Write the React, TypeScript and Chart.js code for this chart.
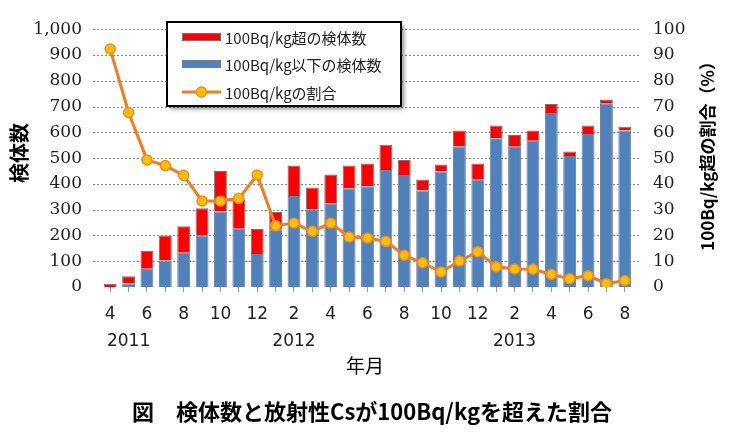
import { useEffect, useRef } from "react";
import { Chart, registerables } from "chart.js";

Chart.register(...registerables);

const categories = [
  "2011/4", "2011/5", "2011/6", "2011/7", "2011/8", "2011/9", "2011/10", "2011/11", "2011/12",
  "2012/1", "2012/2", "2012/3", "2012/4", "2012/5", "2012/6", "2012/7", "2012/8", "2012/9",
  "2012/10", "2012/11", "2012/12", "2013/1", "2013/2", "2013/3", "2013/4", "2013/5", "2013/6",
  "2013/7", "2013/8",
];
const monthTicks = [
  "4", "", "6", "", "8", "", "10", "", "12", "", "2", "", "4", "", "6", "", "8", "", "10", "",
  "12", "", "2", "", "4", "", "6", "", "8",
];
const yearTicks = [
  "", "2011", "", "", "", "", "", "", "", "", "2012", "", "", "", "", "", "", "", "", "", "", "",
  "2013", "", "", "", "", "", "",
];
const belowCounts = [
  0, 14, 71, 103, 133, 200, 293, 226, 128, 222, 353, 302, 325, 383, 391, 454, 434, 374, 448, 545,
  416, 577, 544, 567, 675, 508, 593, 713, 607,
];
const overCounts = [
  13, 28, 70, 97, 103, 105, 157, 114, 97, 69, 118, 84, 111, 88, 88, 98, 59, 43, 27, 62, 63, 49, 46,
  40, 35, 18, 33, 14, 15,
];
const overRatio = [
  92.3, 67.7, 49.3, 47.1, 43.3, 33.4, 33.4, 34.4, 43.4, 23.8, 24.8, 21.6, 24.8, 19.4, 19.0, 17.7,
  12.3, 9.4, 5.8, 10.1, 13.7, 7.9, 7.0, 6.9, 4.9, 3.2, 4.4, 1.3, 2.5,
];
const countTicks = [100, 200, 300, 400, 500, 600, 700, 800, 900, 1000];

const labelOver = "100Bq/kg超の検体数";
const labelBelow = "100Bq/kg以下の検体数";
const labelRatio = "100Bq/kgの割合";
const titleLeft = "検体数";
const titleRight = "100Bq/kg超の割合（%）";
const titleX = "年月";
const caption = "図　検体数と放射性Csが100Bq/kgを超えた割合";

const CJK = '"Noto Sans CJK JP", "Noto Sans", sans-serif';

const gridPlugin = {
  id: "extGrid",
  beforeDatasetsDraw(chart: any) {
    const { ctx, chartArea, scales } = chart;
    ctx.save();
    ctx.strokeStyle = "#8a8a8a";
    ctx.lineWidth = 1;
    ctx.setLineDash([2, 2]);
    for (const v of countTicks) {
      const y = Math.round(scales.y.getPixelForValue(v)) + 0.5;
      ctx.beginPath();
      ctx.moveTo(chartArea.left - 8, y);
      ctx.lineTo(chartArea.right + 6, y);
      ctx.stroke();
    }
    ctx.restore();
  },
};

const decorPlugin = {
  id: "decor",
  afterDraw(chart: any) {
    const { ctx } = chart;
    const ds = chart.data.datasets;
    ctx.save();
    // legend box
    const bx = 167, by = 22, bw = 234, bh = 84;
    ctx.save();
    ctx.shadowColor = "rgba(0,0,0,0.45)";
    ctx.shadowBlur = 4;
    ctx.shadowOffsetX = 3;
    ctx.shadowOffsetY = 3;
    ctx.fillStyle = "#ffffff";
    ctx.fillRect(bx, by, bw, bh);
    ctx.restore();
    ctx.lineWidth = 2;
    ctx.strokeStyle = "#000000";
    ctx.strokeRect(bx, by, bw, bh);

    const rows = [37, 64, 92];
    const items = [ds[1], ds[0], ds[2]];
    ctx.font = `15px ${CJK}`;
    ctx.textBaseline = "middle";
    ctx.textAlign = "left";
    items.forEach((d: any, i: number) => {
      const y = rows[i];
      if (d.type === "line") {
        ctx.strokeStyle = d.borderColor;
        ctx.lineWidth = 3;
        ctx.beginPath();
        ctx.moveTo(182, y);
        ctx.lineTo(221, y);
        ctx.stroke();
        ctx.beginPath();
        ctx.arc(201.5, y, 5, 0, Math.PI * 2);
        ctx.fillStyle = d.pointBackgroundColor;
        ctx.fill();
        ctx.lineWidth = 1.5;
        ctx.strokeStyle = d.pointBorderColor;
        ctx.stroke();
      } else {
        ctx.fillStyle = d.backgroundColor;
        ctx.fillRect(182, y - 4, 39, 8);
        ctx.lineWidth = 1;
        ctx.strokeStyle = d.borderColor;
        ctx.strokeRect(182.5, y - 3.5, 38, 7);
      }
      ctx.fillStyle = "#222222";
      ctx.fillText(d.label, 225, y + 1);
    });

    // axis titles
    ctx.fillStyle = "#000000";
    ctx.textAlign = "center";
    ctx.textBaseline = "middle";
    ctx.save();
    ctx.translate(19, 153);
    ctx.rotate(-Math.PI / 2);
    ctx.font = `bold 20px ${CJK}`;
    ctx.fillText(titleLeft, 0, 0);
    ctx.restore();

    ctx.save();
    ctx.translate(708, 152);
    ctx.rotate(-Math.PI / 2);
    ctx.font = `bold 17px ${CJK}`;
    ctx.fillText(titleRight, 0, 0);
    ctx.restore();

    ctx.font = `19px ${CJK}`;
    ctx.fillText(titleX, 365, 366);

    ctx.font = `bold 22px ${CJK}`;
    ctx.fillText(caption, 372, 412);
    ctx.restore();
  },
};

export default function App() {
  const canvasRef = useRef<HTMLCanvasElement | null>(null);

  useEffect(() => {
    document.body.style.margin = "0";
    const canvas = canvasRef.current;
    if (!canvas) return;
    const chart = new Chart(canvas, {
      type: "bar",
      data: {
        labels: categories,
        datasets: [
          {
            type: "bar",
            label: labelBelow,
            data: belowCounts,
            backgroundColor: "#4F81BD",
            borderColor: "#6f7f90",
            borderWidth: 1,
            yAxisID: "y",
            stack: "s",
            order: 1,
            barPercentage: 0.7,
            categoryPercentage: 1,
          },
          {
            type: "bar",
            label: labelOver,
            data: overCounts,
            backgroundColor: "#FF0000",
            borderColor: "#8a6a6a",
            borderWidth: 1,
            yAxisID: "y",
            stack: "s",
            order: 1,
            barPercentage: 0.7,
            categoryPercentage: 1,
          },
          {
            type: "line",
            label: labelRatio,
            data: overRatio,
            borderColor: "#F47B20",
            borderWidth: 3,
            pointRadius: 5,
            pointBackgroundColor: "#FFC000",
            pointBorderColor: "#F58A1F",
            pointBorderWidth: 1.5,
            yAxisID: "y1",
            order: 0,
            tension: 0,
          },
        ] as any,
      },
      options: {
        animation: false,
        responsive: true,
        maintainAspectRatio: false,
        layout: { padding: { top: 16, left: 0, right: 0, bottom: 0 } },
        plugins: {
          legend: { display: false },
          tooltip: { enabled: false },
          title: { display: false },
        },
        scales: {
          x: {
            type: "category",
            stacked: true,
            offset: true,
            border: { display: false },
            grid: {
              display: true,
              offset: false,
              drawOnChartArea: false,
              drawTicks: true,
              tickLength: 5,
              color: "#9a9a9a",
            },
            ticks: {
              autoSkip: false,
              maxRotation: 0,
              minRotation: 0,
              padding: 9,
              color: "#222222",
              font: { family: '"DejaVu Sans", sans-serif', size: 17, lineHeight: 1.6 },
              callback: (_v: any, i: number) =>
                yearTicks[i] ? [monthTicks[i], yearTicks[i]] : monthTicks[i],
            },
            afterFit: (s: any) => {
              s.height = 153;
            },
          },
          y: {
            type: "linear",
            position: "left",
            stacked: true,
            min: 0,
            max: 1000,
            border: { display: false },
            grid: { display: false, drawTicks: false },
            ticks: {
              stepSize: 100,
              padding: 19,
              color: "#222222",
              font: { family: '"DejaVu Serif", serif', size: 17 },
              callback: (v: any) => Number(v).toLocaleString("en-US"),
            },
            afterFit: (s: any) => {
              s.width = 101;
            },
          },
          y1: {
            type: "linear",
            position: "right",
            min: 0,
            max: 100,
            border: { display: false },
            grid: { display: false, drawTicks: false },
            ticks: {
              stepSize: 10,
              padding: 19,
              color: "#222222",
              font: { family: '"DejaVu Serif", serif', size: 17 },
            },
            afterFit: (s: any) => {
              s.width = 107;
            },
          },
        },
      },
      plugins: [gridPlugin, decorPlugin],
    });
    return () => chart.destroy();
  }, []);

  return (
    <div style={{ position: "fixed", left: 0, top: 0, width: 741, height: 440 }}>
      <canvas ref={canvasRef} />
    </div>
  );
}
